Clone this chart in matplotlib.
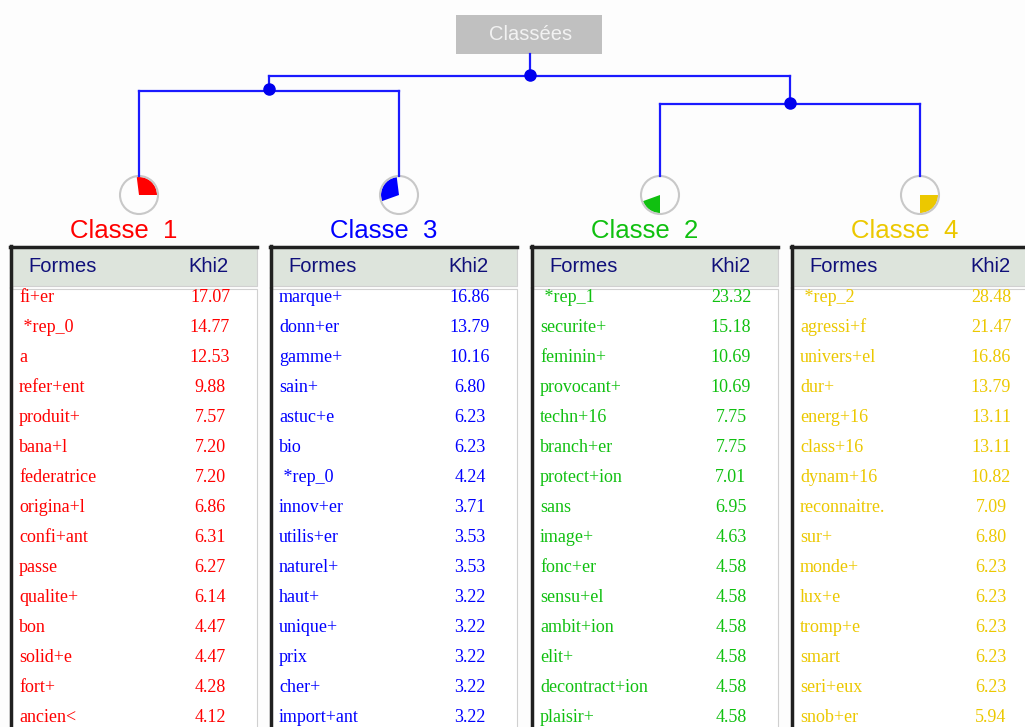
import matplotlib.pyplot as plt
from matplotlib.patches import Rectangle, Circle, Wedge

# classes in display order (left to right)
class_names = ["Classe  1", "Classe  3", "Classe  2", "Classe  4"]
class_colors = ["#ff0000", "#0000ff", "#10c010", "#ecc800"]
class_share = [27.0, 28.5, 19.5, 25.0]  # % of segments

forms_1 = ["fi+er", " *rep_0", "a", "refer+ent", "produit+", "bana+l", "federatrice",
           "origina+l", "confi+ant", "passe", "qualite+", "bon", "solid+e", "fort+", "ancien<"]
khi2_1 = [17.07, 14.77, 12.53, 9.88, 7.57, 7.20, 7.20, 6.86, 6.31, 6.27, 6.14, 4.47, 4.47, 4.28, 4.12]

forms_3 = ["marque+", "donn+er", "gamme+", "sain+", "astuc+e", "bio", " *rep_0", "innov+er",
           "utilis+er", "naturel+", "haut+", "unique+", "prix", "cher+", "import+ant"]
khi2_3 = [16.86, 13.79, 10.16, 6.80, 6.23, 6.23, 4.24, 3.71, 3.53, 3.53, 3.22, 3.22, 3.22, 3.22, 3.22]

forms_2 = [" *rep_1", "securite+", "feminin+", "provocant+", "techn+16", "branch+er",
           "protect+ion", "sans", "image+", "fonc+er", "sensu+el", "ambit+ion", "elit+",
           "decontract+ion", "plaisir+"]
khi2_2 = [23.32, 15.18, 10.69, 10.69, 7.75, 7.75, 7.01, 6.95, 4.63, 4.58, 4.58, 4.58, 4.58, 4.58, 4.58]

forms_4 = [" *rep_2", "agressi+f", "univers+el", "dur+", "energ+16", "class+16", "dynam+16",
           "reconnaitre.", "sur+", "monde+", "lux+e", "tromp+e", "smart", "seri+eux", "snob+er"]
khi2_4 = [28.48, 21.47, 16.86, 13.79, 13.11, 13.11, 10.82, 7.09, 6.80, 6.23, 6.23, 6.23, 6.23, 6.23, 5.94]

forms_all = [forms_1, forms_3, forms_2, forms_4]
khi2_all = [khi2_1, khi2_3, khi2_2, khi2_4]

# layout in pixels
W, H = 1025, 727
table_x = [10, 270, 531, 791]
table_w = 247
head_top, head_bot = 246, 286
row0, row_h = 297, 30
pie_y, pie_r = 195, 19
line_col = "#1a1aff"

fig = plt.figure(figsize=(W / 100, H / 100), dpi=100)
fig.patch.set_facecolor("#fdfdfd")
ax = fig.add_axes([0, 0, 1, 1])
ax.set_xlim(0, W)
ax.set_ylim(H, 0)
ax.axis("off")

# top box
ax.add_patch(Rectangle((456, 15), 146, 39, facecolor="#c0c0c0", edgecolor="none"))
ax.text(531, 35, "Classées", ha="center", va="center", fontsize=14.5,
        family="Liberation Sans", color="#f2f2f2")

# dendrogram
leaf_x = [tx + 129 for tx in table_x]
left_node = (leaf_x[0] + leaf_x[1]) / 2
right_node = (leaf_x[2] + leaf_x[3]) / 2
root = (left_node + right_node) / 2
y_root, y_left, y_right = 76, 91, 104
pie_top = pie_y - pie_r

ax.plot([root, root], [54, y_root], color=line_col, lw=1.6)
ax.plot([left_node, right_node], [y_root, y_root], color=line_col, lw=1.6)
ax.plot([left_node, left_node], [y_root, y_left], color=line_col, lw=1.6)
ax.plot([right_node, right_node], [y_root, y_right], color=line_col, lw=1.6)
ax.plot([leaf_x[0], leaf_x[1]], [y_left, y_left], color=line_col, lw=1.6)
ax.plot([leaf_x[2], leaf_x[3]], [y_right, y_right], color=line_col, lw=1.6)
for i in range(4):
    yb = y_left if i < 2 else y_right
    ax.plot([leaf_x[i], leaf_x[i]], [yb, pie_top], color=line_col, lw=1.6)
ax.plot([root, left_node, right_node], [y_root - 1, y_left - 2, y_right - 1], "o",
        color="#0000ee", markersize=8)

# pies (cumulative shares, counter-clockwise from east; y axis is inverted)
start = 0.0
for i in range(4):
    a0 = start
    a1 = start + class_share[i] * 3.6
    start = a1
    ax.add_patch(Wedge((leaf_x[i], pie_y), pie_r - 1, -a1, -a0, facecolor=class_colors[i],
                       edgecolor="none"))
    ax.add_patch(Circle((leaf_x[i], pie_y), pie_r, facecolor="none", edgecolor="#c8c8c8", lw=1.5))

# class titles and tables
for i in range(4):
    tx = table_x[i]
    ax.text(tx + 114, 231, class_names[i], ha="center", va="center", fontsize=18.5,
            family="Liberation Sans", color=class_colors[i])

    ax.add_patch(Rectangle((tx, head_top), table_w, head_bot - head_top,
                           facecolor="#dde4dc", edgecolor="#d0d0d0", lw=0.8))
    ax.plot([tx, tx + table_w], [head_top + 1, head_top + 1], color="#202020", lw=2.5)
    ax.add_patch(Rectangle((tx, head_bot + 3), table_w, H - head_bot, facecolor="white",
                           edgecolor="#d0d0d0", lw=0.8))
    ax.plot([tx + 1, tx + 1], [head_top, head_bot], color="#202020", lw=2.5)
    ax.plot([tx + 1, tx + 1], [head_bot + 3, H], color="#202020", lw=2.5)

    ax.text(tx + 18, 266, "Formes", ha="left", va="center", fontsize=14.5,
            family="Liberation Sans", color="#10107a")
    ax.text(tx + 219, 266, "Khi2", ha="right", va="center", fontsize=14.5,
            family="Liberation Sans", color="#10107a")

    for j in range(len(forms_all[i])):
        y = row0 + j * row_h
        ax.text(tx + 9, y, forms_all[i][j], ha="left", va="center", fontsize=13,
                family="Liberation Serif", color=class_colors[i])
        ax.text(tx + 200, y, "%.2f" % khi2_all[i][j], ha="center", va="center", fontsize=13,
                family="Liberation Serif", color=class_colors[i])

fig.savefig("out.png", dpi=100, facecolor=fig.get_facecolor())
